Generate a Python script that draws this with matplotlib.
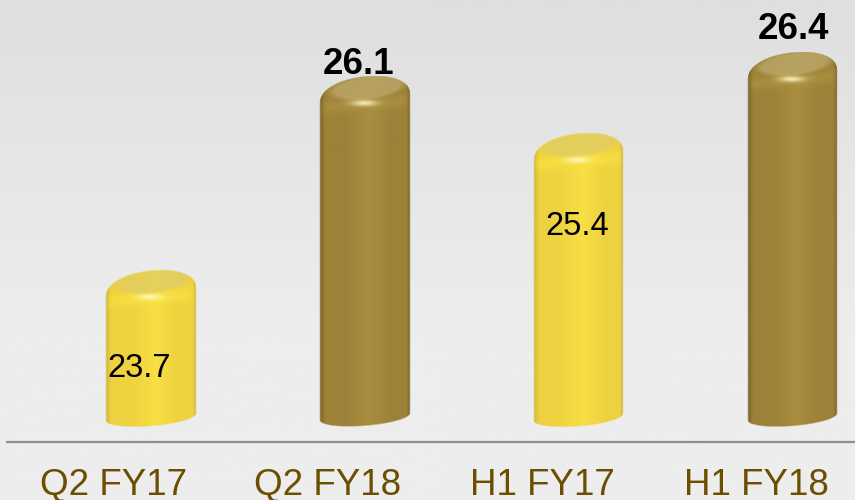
import numpy as np
import matplotlib
matplotlib.use('Agg')
import matplotlib.pyplot as plt

categories = ['Q2 FY17', 'Q2 FY18', 'H1 FY17', 'H1 FY18']
values = [23.7, 26.1, 25.4, 26.4]

W, H = 855, 500
PX_PER_UNIT = 80.7
BAR_SPACING = 214.0
FIRST_BAR = 150.5
BAR_HALF = 44.5
BASE = 23.7 - 146.5 / PX_PER_UNIT  # bar bottom, in value units

YELLOW = dict(edge='#d2b83e', mid='#eed240', bright='#f8df44', cap='#e2cd62', band='#fae23e')
BRONZE = dict(edge='#7a6528', mid='#9c8238', bright='#a98e40', cap='#b9a566', band='#ad9242')
bar_styles = [YELLOW, BRONZE, YELLOW, BRONZE]

# text placement around each bar top, in pixels
label_dx = [-11, -6, -1, 1]
label_dy = [-95, 15, -91, 26]
label_bold = [False, True, False, True]


def to_rgb(c):
    return np.array(matplotlib.colors.to_rgb(c))


def cylinder_image(value, style):
    # shaded cylinder on a pixel grid, x in -1..1 and y in pixels below the top
    height = (value - BASE) * PX_PER_UNIT + 10
    nx, ny = int(BAR_HALF * 2 + 4), int(height + 2)
    xs = (np.arange(nx) + 0.5 - nx / 2) / BAR_HALF
    ys = np.arange(ny) + 0.5
    u, y = np.meshgrid(xs, ys)
    au = np.clip(np.abs(u), 0, 1)
    root = (1 - au ** 2.1) ** (1 / 2.1)

    # outline: tilted dome on top, tilted ellipse at the bottom
    top_edge = 21 - 21 * root - 4.5 * u + 0.5
    bottom_edge = height - 9.5 + 9 * np.sqrt(1 - au ** 2) - 3.5 * u
    alpha = np.clip((y - top_edge) / 1.5 + 0.5, 0, 1) * np.clip((bottom_edge - y) / 1.5 + 0.5, 0, 1)
    alpha *= np.clip((1 - np.abs(u)) * BAR_HALF / 1.5 + 0.5, 0, 1)

    # horizontal shading of the body
    stops = [-1.0, -0.88, -0.45, 0.1, 0.6, 0.92, 1.0]
    cols = np.array([to_rgb(style[k]) for k in ['edge', 'mid', 'mid', 'bright', 'mid', 'mid', 'edge']])
    rgb = np.stack([np.interp(u, stops, cols[:, i]) for i in range(3)], axis=-1)

    # lit band where the shoulder turns over
    band = (np.exp(-((y - (28 - 4 * u)) / 7) ** 2) * np.clip((1 - au) * 6, 0, 1) * 0.7)[..., None]
    rgb = rgb * (1 - band) + to_rgb(style['band']) * band

    # flat cap, a lighter inset ellipse with a soft rim
    cu = (u - 0.05) / 0.84
    cv = (y - (12 - 5 * u)) / 11.5
    dist = np.sqrt(cu ** 2 + cv ** 2)
    cap = (np.clip((1.1 - dist) / 0.25, 0, 1) * 0.85)[..., None]
    rgb = rgb * (1 - cap) + to_rgb(style['cap']) * cap

    # glint on the front edge of the cap
    glint = np.exp(-((u + 0.02) / 0.28) ** 2 - ((y - 27) / 3) ** 2)[..., None] * 0.85
    rgb = rgb * (1 - glint) + np.array([1.0, 0.97, 0.78]) * glint

    return np.dstack([rgb, alpha]), nx, ny


fig = plt.figure(figsize=(W / 100, H / 100), dpi=100)
ax = fig.add_axes([0, 0, 1, 1])
ax.set_xlim(-FIRST_BAR / BAR_SPACING, (W - FIRST_BAR) / BAR_SPACING)
ax.set_ylim(23.7 - 230 / PX_PER_UNIT, 23.7 + 270 / PX_PER_UNIT)
ax.axis('off')

# page background, slightly darker at the top
x0, x1 = ax.get_xlim()
y0, y1 = ax.get_ylim()
grad = np.clip(np.linspace(0, 1, 256) * 1.5, 0, 1) * (237 - 223) + 223
ax.imshow(np.repeat(grad[:, None, None], 3, axis=2) / 255,
          extent=[x0, x1, y0, y1], origin='upper', aspect='auto', zorder=0)

for i, (val, style) in enumerate(zip(values, bar_styles)):
    img, nx, ny = cylinder_image(val, style)
    half_w = nx / 2 / BAR_SPACING
    ax.imshow(img, extent=[i - half_w, i + half_w, val - ny / PX_PER_UNIT, val], aspect='auto',
              interpolation='bilinear', zorder=2)
    weight = 'bold' if label_bold[i] else 'normal'
    size = 26.5 if label_bold[i] else 23.5
    ax.annotate(f'{val:.1f}', xy=(i, val), xytext=(label_dx[i] * 0.72, (label_dy[i] - 3) * 0.72),
                textcoords='offset points', ha='center', va='center', fontsize=size,
                fontweight=weight, family='Liberation Sans', color='black', zorder=3)
    ax.annotate(categories[i], xy=(i, BASE), xytext=(-36.5 * 0.72, -(485 - 416.5) * 0.72),
                textcoords='offset points', ha='center', va='center', fontsize=26.5,
                family='Liberation Sans', color='#6b4e00', zorder=3)

ax.set_xlim(x0, x1)
ax.set_ylim(y0, y1)

# axis line under the bars
line_y = BASE - 25.5 / PX_PER_UNIT
ax.plot([x0 + 6 / BAR_SPACING, x1], [line_y, line_y], color='#8f8f8f', lw=1.6, zorder=1,
        solid_capstyle='butt')

fig.savefig('out.png', dpi=100)
